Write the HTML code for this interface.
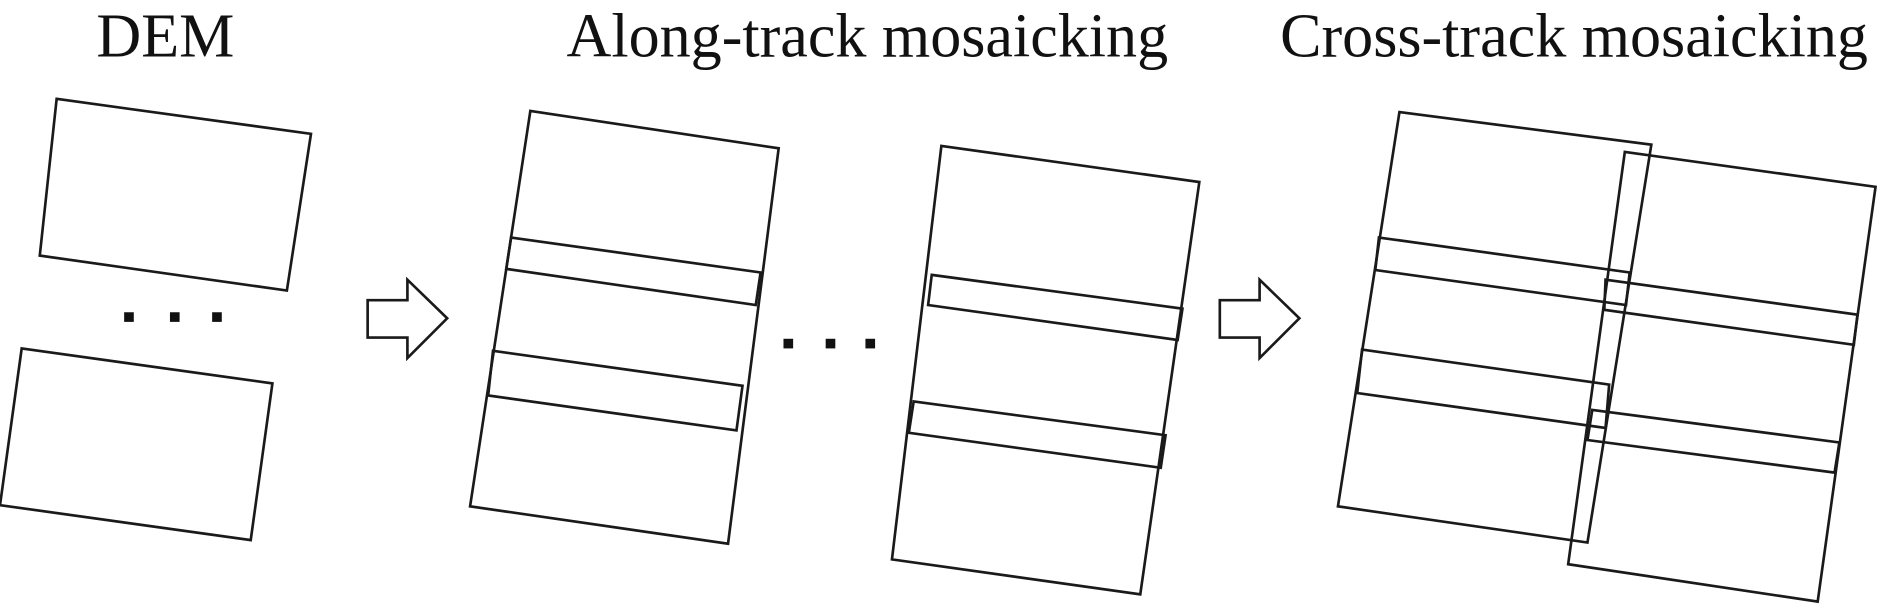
<!DOCTYPE html>
<html><head><meta charset="utf-8"><style>
html,body{margin:0;padding:0;background:#fff;}
svg{display:block;}
text{font-family:"Liberation Serif",serif;font-size:51.5px;fill:#111;}
</style></head><body>
<svg width="1890" height="604" viewBox="0 0 1568 501" preserveAspectRatio="none" xmlns="http://www.w3.org/2000/svg">
<text x="80" y="47">DEM</text>
<text x="470" y="47">Along-track mosaicking</text>
<text x="1062" y="47">Cross-track mosaicking</text>
<g fill="none" stroke="#1a1a1a" stroke-width="2.2">
<polygon points="47,82 258,111 238,241 33,212"/>
<polygon points="18,289 226,318 208,448 0,419"/>
<polygon points="305,249 338,249 338,232 371,264 338,297 338,280 305,280"/>
<polygon points="1012,249 1045,249 1045,232 1078,264 1045,297 1045,280 1012,280"/>
<polygon points="440,92 646,123 604,451 390,420"/>
<polygon points="424,197 631,226 627,253 420,223"/>
<polygon points="409,291 616,320 611,357 405,328"/>
<polygon points="781,121 995,151 946,493 740,464"/>
<polygon points="773,228 981,256 977,282 770,253"/>
<polygon points="758,333 967,361 963,388 754,359"/>
<polygon points="1161,93 1370,120 1317,450 1110,420"/>
<polygon points="1144,197 1352,226 1349,253 1141,224"/>
<polygon points="1130,290 1335,319 1332,355 1126,326"/>
<polygon points="1348,126 1556,155 1508,499 1301,468"/>
<polygon points="1332,232 1541,261 1538,286 1331,257"/>
<polygon points="1321,340 1526,367 1522,392 1317,365"/>
</g>
<g fill="#111">
<rect x="103" y="259" width="8" height="8"/><rect x="141" y="259" width="8" height="8"/><rect x="176" y="259" width="8" height="8"/>
<rect x="650" y="281" width="8" height="8"/><rect x="685" y="281" width="8" height="8"/><rect x="718" y="281" width="8" height="8"/>
</g>
</svg>
</body></html>
